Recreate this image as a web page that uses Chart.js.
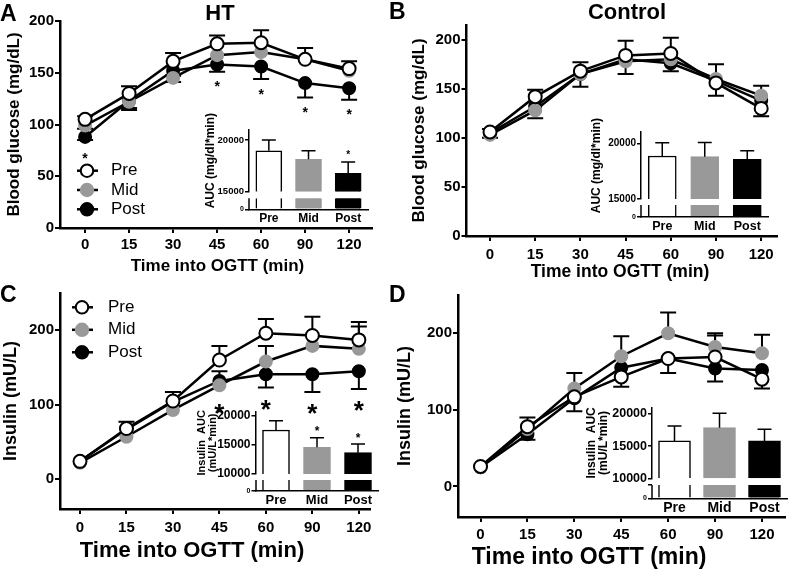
<!DOCTYPE html>
<html><head><meta charset="utf-8">
<script src="https://cdn.jsdelivr.net/npm/chart.js@4.4.0/dist/chart.umd.min.js"></script>
<style>
html,body{margin:0;padding:0;background:#fff;width:793px;height:569px;overflow:hidden}
#wrap{position:relative;width:793px;height:569px;background:#fff}
canvas{position:absolute;left:0;top:0}
</style></head><body>
<div id="wrap"></div>
<script>
const FONT = '"Liberation Sans", Arial, Helvetica, sans-serif';
const timeLabels = ['0', '15', '30', '45', '60', '90', '120'];
const groups = ['Pre', 'Mid', 'Post'];

// A - HT, blood glucose (mg/dL)
const htGluPre  = [105, 130, 161, 178, 179, 163, 154];
const htGluMid  = [99, 122, 145, 167, 170, 163, 152];
const htGluPost = [88, 123, 152, 158, 156, 140, 135];
const htGluPreUp    = [3, 7, 8, 8, 12, 11, 7];
const htGluPreDown  = [0, 0, 0, 0, 0, 0, 0];
const htGluMidUp    = [0, 0, 0, 0, 0, 0, 0];
const htGluMidDown  = [3, 6, 4, 0, 0, 0, 0];
const htGluPostUp   = [0, 0, 0, 0, 0, 0, 0];
const htGluPostDown = [3, 9, 5, 7, 12, 14, 11];
const htGluSig = [1, 0, 0, 1, 1, 1, 1];
const htGluAuc = [18950, 18130, 16780];
const htGluAucErr = [1050, 830, 1100];
const htGluAucSig = [0, 0, 1];

// B - Control, blood glucose (mg/dL)
const ctGluPre  = [106, 142, 168, 184, 186, 156, 130];
const ctGluMid  = [103, 128, 165, 178, 180, 160, 143];
const ctGluPost = [105, 132, 165, 180, 176, 158, 138];
const ctGluPreUp    = [3, 7, 9, 15, 16, 0, 0];
const ctGluPreDown  = [0, 0, 0, 0, 0, 13, 8];
const ctGluMidUp    = [0, 0, 0, 0, 0, 15, 10];
const ctGluMidDown  = [3, 8, 0, 13, 0, 0, 0];
const ctGluPostUp   = [0, 0, 0, 0, 0, 0, 0];
const ctGluPostDown = [0, 0, 13, 0, 8, 0, 0];
const ctGluSig = [0, 0, 0, 0, 0, 0, 0];
const ctGluAuc = [18860, 18800, 18560];
const ctGluAucErr = [1190, 1280, 780];
const ctGluAucSig = [0, 0, 0];

// C - HT, insulin (mU/L)
const htInsPre  = [24, 68, 105, 160, 196, 193, 187];
const htInsMid  = [22, 57, 93, 126, 158, 179, 175];
const htInsPost = [24, 67, 104, 132, 141, 141, 145];
const htInsPreUp    = [0, 9, 12, 19, 19, 25, 24];
const htInsPreDown  = [0, 0, 0, 0, 0, 0, 0];
const htInsMidUp    = [0, 0, 0, 0, 21, 0, 30];
const htInsMidDown  = [0, 0, 0, 0, 0, 0, 0];
const htInsPostUp   = [0, 0, 0, 13, 0, 0, 0];
const htInsPostDown = [0, 0, 0, 0, 18, 24, 24];
const htInsSig = [0, 0, 0, 1, 1, 1, 1];
const htInsAuc = [17550, 14590, 13660];
const htInsAucErr = [1600, 1640, 1490];
const htInsAucSig = [0, 1, 1];

// D - Control, insulin (mU/L)
const ctInsPre  = [26, 78, 117, 143, 167, 169, 140];
const ctInsMid  = [25, 75, 128, 170, 200, 182, 174];
const ctInsPost = [25, 68, 115, 155, 167, 154, 152];
const ctInsPreUp    = [0, 12, 0, 0, 0, 28, 0];
const ctInsPreDown  = [0, 0, 0, 13, 19, 0, 12];
const ctInsMidUp    = [0, 0, 20, 26, 27, 18, 24];
const ctInsMidDown  = [0, 0, 0, 0, 0, 0, 0];
const ctInsPostUp   = [0, 0, 0, 0, 0, 0, 0];
const ctInsPostDown = [0, 7, 17, 0, 0, 17, 0];
const ctInsSig = [0, 0, 0, 0, 0, 0, 0];
const ctInsAuc = [15810, 17870, 15810];
const ctInsAucErr = [2330, 2230, 1810];
const ctInsAucSig = [0, 0, 0];

Chart.defaults.font.family = FONT;
Chart.defaults.color = '#000';

const GRAY = '#999999';
const seriesStyle = [
  { fill: '#ffffff', border: '#000000', radius: 6.5 },
  { fill: GRAY, border: GRAY, radius: 6 },
  { fill: '#000000', border: '#000000', radius: 6 }
];
const barFill = ['#ffffff', GRAY, '#000000'];
const barBorder = ['#000000', GRAY, '#000000'];

const wrap = document.getElementById('wrap');
function newCanvas() {
  const c = document.createElement('canvas');
  c.width = 793; c.height = 569;
  c.style.width = '793px'; c.style.height = '569px';
  wrap.appendChild(c);
  return c;
}

function mainPanel(g) {
  const TICK = 15;
  const padLeft = g.yTitleX - g.yTitleSize * 0.6;
  const yW = g.L - padLeft;
  const xH = g.xTitleY + g.xTitleSize * 0.6 - g.B;
  const xPad = g.xTickY - g.B - 5 - TICK * 0.6;
  const datasets = g.series.map((s, k) => ({
    label: groups[k],
    data: s.map((v, i) => ({ x: i, y: v })),
    borderColor: '#000', borderWidth: 2.5, tension: 0,
    pointRadius: seriesStyle[k].radius, pointHoverRadius: seriesStyle[k].radius,
    pointBackgroundColor: seriesStyle[k].fill, pointBorderColor: seriesStyle[k].border,
    pointBorderWidth: 2, clip: false
  }));
  const plugins = [{
    id: 'panelExtras',
    beforeDatasetsDraw(chart) {
      const { ctx } = chart; const x = chart.scales.x, y = chart.scales.y;
      ctx.save(); ctx.strokeStyle = '#000'; ctx.lineWidth = 2;
      g.series.forEach((s, k) => {
        s.forEach((v, i) => {
          const px = x.getPixelForValue(i);
          [[g.up[k][i], 1], [g.down[k][i], -1]].forEach(([e, sgn]) => {
            if (!e) return;
            const y0 = y.getPixelForValue(v), y1 = y.getPixelForValue(v + sgn * e);
            ctx.beginPath(); ctx.moveTo(px, y0); ctx.lineTo(px, y1);
            ctx.moveTo(px - 8, y1); ctx.lineTo(px + 8, y1); ctx.stroke();
          });
        });
      });
      ctx.restore();
    },
    afterDatasetsDraw(chart) {
      const { ctx } = chart; const x = chart.scales.x, y = chart.scales.y;
      ctx.save(); ctx.fillStyle = '#000'; ctx.textAlign = 'center'; ctx.textBaseline = 'alphabetic';
      ctx.font = 'bold ' + g.starSize + 'px ' + FONT;
      g.sig.forEach((f, i) => {
        if (!f) return;
        let low = -Infinity;
        g.series.forEach((s, k) => {
          low = Math.max(low, y.getPixelForValue(s[i]) + seriesStyle[k].radius,
                         y.getPixelForValue(s[i] - g.down[k][i]));
        });
        const cy = low + g.starGap;
        ctx.fillText('*', x.getPixelForValue(i), cy + g.starSize * 0.55);
      });
      if (g.legend) {
        const lg = g.legend;
        groups.forEach((name, k) => {
          const yy = lg.y + k * lg.dy;
          ctx.strokeStyle = '#000'; ctx.lineWidth = 2.5;
          ctx.beginPath(); ctx.moveTo(lg.x - 10, yy); ctx.lineTo(lg.x + 11, yy); ctx.stroke();
          ctx.beginPath(); ctx.arc(lg.x, yy, 6.2, 0, Math.PI * 2);
          ctx.fillStyle = seriesStyle[k].fill; ctx.fill();
          ctx.lineWidth = 2; ctx.strokeStyle = seriesStyle[k].border; ctx.stroke();
          ctx.fillStyle = '#000'; ctx.font = '17px ' + FONT; ctx.textAlign = 'left'; ctx.textBaseline = 'middle';
          ctx.fillText(name, lg.textX, yy);
        });
      }
      // x-axis title
      ctx.fillStyle = '#000'; ctx.textAlign = 'center'; ctx.textBaseline = 'middle';
      ctx.font = 'bold ' + g.xTitleSize + 'px ' + FONT;
      ctx.fillText('Time into OGTT (min)', g.xTitleX, g.xTitleY);
      // panel letter & title
      ctx.textBaseline = 'alphabetic';
      ctx.font = 'bold 23px ' + FONT; ctx.textAlign = 'left';
      ctx.fillText(g.letter[0], g.letter[1], g.letter[2]);
      if (g.title) {
        ctx.font = 'bold 22px ' + FONT; ctx.textAlign = 'center';
        ctx.fillText(g.title[0], g.title[1], g.title[2]);
      }
      ctx.restore();
    }
  }];
  new Chart(newCanvas(), {
    type: 'line',
    data: { datasets },
    plugins,
    options: {
      responsive: false, animation: false, events: [],
      layout: { padding: { left: padLeft, top: g.T, right: 793 - g.R, bottom: 569 - g.B - xH } },
      plugins: { legend: { display: false }, tooltip: { enabled: false } },
      scales: {
        x: {
          type: 'linear', min: g.xMin, max: g.xMax,
          afterBuildTicks: s => { s.ticks = timeLabels.map((_, i) => ({ value: i })); },
          afterFit: s => { s.height = xH; },
          ticks: { callback: (v, i) => timeLabels[i], font: { size: TICK, weight: 'bold' }, color: '#000', padding: xPad, maxRotation: 0, autoSkip: false },
          grid: { display: true, drawOnChartArea: false, drawTicks: true, tickLength: 5, color: '#000', lineWidth: 2 },
          border: { display: true, color: '#000', width: 2.5 },
          title: { display: false }
        },
        y: {
          type: 'linear', min: g.yMin, max: g.yMax,
          afterBuildTicks: s => { s.ticks = g.yTicks.map(v => ({ value: v })); },
          afterFit: s => { s.width = yW; },
          ticks: { font: { size: TICK, weight: 'bold' }, color: '#000', padding: 1, callback: v => String(v) },
          grid: { display: true, drawOnChartArea: false, drawTicks: true, tickLength: 5, color: '#000', lineWidth: 2 },
          border: { display: true, color: '#000', width: 2.5 },
          title: { display: true, text: g.yTitle, font: { size: g.yTitleSize, weight: 'bold' }, color: '#000', padding: 0 }
        }
      }
    }
  });
}

function insetPanel(g) {
  const lh = g.labelSize * g.labelLH;
  const padLeft = g.labelX - lh / 2;
  const yW = g.L - padLeft;
  const yTop = g.yHiTick - (g.hiMax - g.hiTickVal) / (g.hiTickVal - g.brk) * (g.yBrk - g.yHiTick);
  const hiH = g.yBrk - yTop;
  const loH = g.y0 - g.yBrk;
  const loMax = g.brk * loH / (g.y0 - g.yLoTop);
  const xH = 22;
  const xPad = 9.5 - g.catSize * 0.6;
  const plugins = [{
    id: 'insetExtras',
    afterDatasetsDraw(chart) {
      const { ctx } = chart; const x = chart.scales.x, hi = chart.scales.yHi, lo = chart.scales.yLo;
      ctx.save(); ctx.strokeStyle = '#000'; ctx.lineWidth = 1.5; ctx.fillStyle = '#000';
      g.values.forEach((v, i) => {
        const px = x.getPixelForValue(i);
        const y0 = hi.getPixelForValue(v), y1 = hi.getPixelForValue(v + g.err[i]);
        ctx.beginPath(); ctx.moveTo(px, y0); ctx.lineTo(px, y1);
        ctx.moveTo(px - 7, y1); ctx.lineTo(px + 7, y1); ctx.stroke();
        if (g.sig[i]) {
          ctx.font = 'bold ' + g.starSize + 'px ' + FONT; ctx.textAlign = 'center'; ctx.textBaseline = 'alphabetic';
          ctx.fillText('*', px, y1 - 9 + g.starSize * 0.55);
        }
      });
      const ax = Math.round(lo.right);
      ctx.beginPath(); ctx.moveTo(ax, lo.getPixelForValue(0) + 0.75); ctx.lineTo(ax, lo.getPixelForValue(g.brk)); ctx.stroke();
      ctx.restore();
    }
  }];
  const tickFont = { size: g.tickSize, weight: 'bold' };
  new Chart(newCanvas(), {
    type: 'bar',
    data: {
      labels: groups,
      datasets: [
        {
          data: g.values.map(v => [g.brk, v]), yAxisID: 'yHi', grouped: false, barThickness: g.barW,
          backgroundColor: barFill, borderColor: barBorder, borderSkipped: false,
          borderWidth: { top: 1.5, left: 1.5, right: 1.5, bottom: 0 }
        },
        {
          data: g.values.map(() => [0, g.brk]), yAxisID: 'yLo', grouped: false, barThickness: g.barW,
          backgroundColor: barFill, borderColor: barBorder, borderSkipped: false,
          borderWidth: { top: 0, left: 1.5, right: 1.5, bottom: 0 }
        }
      ]
    },
    plugins,
    options: {
      responsive: false, animation: false, events: [],
      layout: { padding: { left: padLeft, top: yTop, right: 793 - g.R, bottom: 569 - g.y0 - xH } },
      plugins: { legend: { display: false }, tooltip: { enabled: false } },
      scales: {
        x: {
          type: 'category', offset: true,
          afterFit: s => { s.height = xH; },
          ticks: { font: { size: g.catSize, weight: 'bold' }, color: '#000', padding: xPad, maxRotation: 0 },
          grid: { display: false, drawTicks: false },
          border: { display: true, color: '#000', width: 1.5 }
        },
        yLo: {
          type: 'linear', position: 'left', stack: 'auc', stackWeight: loH, min: 0, max: loMax,
          afterBuildTicks: s => { s.ticks = [{ value: 0 }, { value: g.brk }]; },
          afterFit: s => { s.width = yW; },
          ticks: { font: { size: 7, weight: 'bold' }, color: '#000', padding: 1, callback: v => (v === 0 ? '0' : '') },
          grid: { display: true, drawOnChartArea: false, drawTicks: true, tickLength: 4, color: '#000', lineWidth: 1.5 },
          border: { display: false }
        },
        yHi: {
          type: 'linear', position: 'left', stack: 'auc', stackWeight: hiH, min: g.brk, max: g.hiMax,
          afterBuildTicks: s => { s.ticks = g.hiTicks.map(v => ({ value: v })); },
          afterFit: s => { s.width = yW; },
          ticks: { font: tickFont, color: '#000', padding: 1, callback: v => String(v) },
          grid: { display: true, drawOnChartArea: false, drawTicks: true, tickLength: 4, color: '#000', lineWidth: 1.5 },
          border: { display: true, color: '#000', width: 1.5 },
          title: { display: true, text: g.label, font: { size: g.labelSize, weight: 'bold', lineHeight: g.labelLH }, color: '#000', padding: 0 }
        }
      }
    }
  });
}

// main panels
mainPanel({
  series: [htGluPre, htGluMid, htGluPost],
  up: [htGluPreUp, htGluMidUp, htGluPostUp], down: [htGluPreDown, htGluMidDown, htGluPostDown],
  sig: htGluSig, starSize: 14, starGap: 12,
  L: 60, R: 372, T: 21, B: 228, yMin: 0, yMax: 200, yTicks: [0, 50, 100, 150, 200],
  xMin: -0.57, xMax: 6.52, yTitleX: 14.7, xTickY: 244.5, xTitleX: 217.5, xTitleY: 266,
  yTitle: 'Blood glucose (mg/dL)', yTitleSize: 17, xTitleSize: 17,
  legend: { x: 87, y: 170.7, dy: 19.3, textX: 111 },
  letter: ['A', 0, 21], title: ['HT', 220, 20]
});
mainPanel({
  series: [ctGluPre, ctGluMid, ctGluPost],
  up: [ctGluPreUp, ctGluMidUp, ctGluPostUp], down: [ctGluPreDown, ctGluMidDown, ctGluPostDown],
  sig: ctGluSig, starSize: 14, starGap: 12,
  L: 466.5, R: 777, T: 25, B: 236, yMin: 0, yMax: 215, yTicks: [0, 50, 100, 150, 200],
  xMin: -0.52, xMax: 6.35, yTitleX: 419, xTickY: 255, xTitleX: 620, xTitleY: 272,
  yTitle: 'Blood glucose (mg/dL)', yTitleSize: 17, xTitleSize: 17.5,
  letter: ['B', 389, 19], title: ['Control', 627, 18.5]
});
mainPanel({
  series: [htInsPre, htInsMid, htInsPost],
  up: [htInsPreUp, htInsMidUp, htInsPostUp], down: [htInsPreDown, htInsMidDown, htInsPostDown],
  sig: htInsSig, starSize: 26, starGap: 16,
  L: 60, R: 370, T: 293, B: 509, yMin: -40, yMax: 250, yTicks: [0, 100, 200],
  xMin: -0.43, xMax: 6.24, yTitleX: 11, xTickY: 528, xTitleX: 192, xTitleY: 550.7,
  yTitle: 'Insulin (mU/L)', yTitleSize: 18, xTitleSize: 22,
  legend: { x: 82, y: 307.3, dy: 22.5, textX: 108 },
  letter: ['C', 0, 302]
});
mainPanel({
  series: [ctInsPre, ctInsMid, ctInsPost],
  up: [ctInsPreUp, ctInsMidUp, ctInsPostUp], down: [ctInsPreDown, ctInsMidDown, ctInsPostDown],
  sig: ctInsSig, starSize: 26, starGap: 16,
  L: 458, R: 791, T: 295, B: 517, yMin: -40, yMax: 250, yTicks: [0, 100, 200],
  xMin: -0.48, xMax: 6.48, yTitleX: 405.5, xTickY: 535, xTitleX: 589, xTitleY: 558,
  yTitle: 'Insulin (mU/L)', yTitleSize: 18, xTitleSize: 23,
  letter: ['D', 389, 302]
});

// inset AUC panels
insetPanel({
  values: htGluAuc, err: htGluAucErr, sig: htGluAucSig, starSize: 10,
  L: 249, R: 368, brk: 15000, hiTickVal: 20000, hiMax: 21000, hiTicks: [15000, 20000],
  yHiTick: 140, yBrk: 191.7, yLoTop: 198.3, y0: 209.3, barW: 26,
  label: 'AUC (mg/dl*min)', labelX: 211, labelSize: 12, labelLH: 1.2, tickSize: 9.5, catSize: 12
});
insetPanel({
  values: ctGluAuc, err: ctGluAucErr, sig: ctGluAucSig, starSize: 10,
  L: 641, R: 768.5, brk: 15000, hiTickVal: 20000, hiMax: 21000, hiTicks: [15000, 20000],
  yHiTick: 143.3, yBrk: 199, yLoTop: 205, y0: 216.7, barW: 28,
  label: 'AUC (mg/dl*min)', labelX: 596.7, labelSize: 12, labelLH: 1.2, tickSize: 10, catSize: 12.5
});
insetPanel({
  values: htInsAuc, err: htInsAucErr, sig: htInsAucSig, starSize: 12,
  L: 255.5, R: 378.5, brk: 10000, hiTickVal: 20000, hiMax: 20700, hiTicks: [10000, 15000, 20000],
  yHiTick: 415.7, yBrk: 474, yLoTop: 480, y0: 490.7, barW: 27,
  label: ['Insulin  AUC', '(mU/L*min)'], labelX: 202, labelSize: 11, labelLH: 1.0, tickSize: 12, catSize: 13
});
insetPanel({
  values: ctInsAuc, err: ctInsAucErr, sig: ctInsAucSig, starSize: 12,
  L: 652, R: 787, brk: 10000, hiTickVal: 20000, hiMax: 21000, hiTicks: [10000, 15000, 20000],
  yHiTick: 414, yBrk: 478.3, yLoTop: 485, y0: 498.3, barW: 32,
  label: ['Insulin  AUC', '(mU/L*min)'], labelX: 592, labelSize: 12, labelLH: 1.0, tickSize: 12.5, catSize: 14
});
</script>
</body></html>
